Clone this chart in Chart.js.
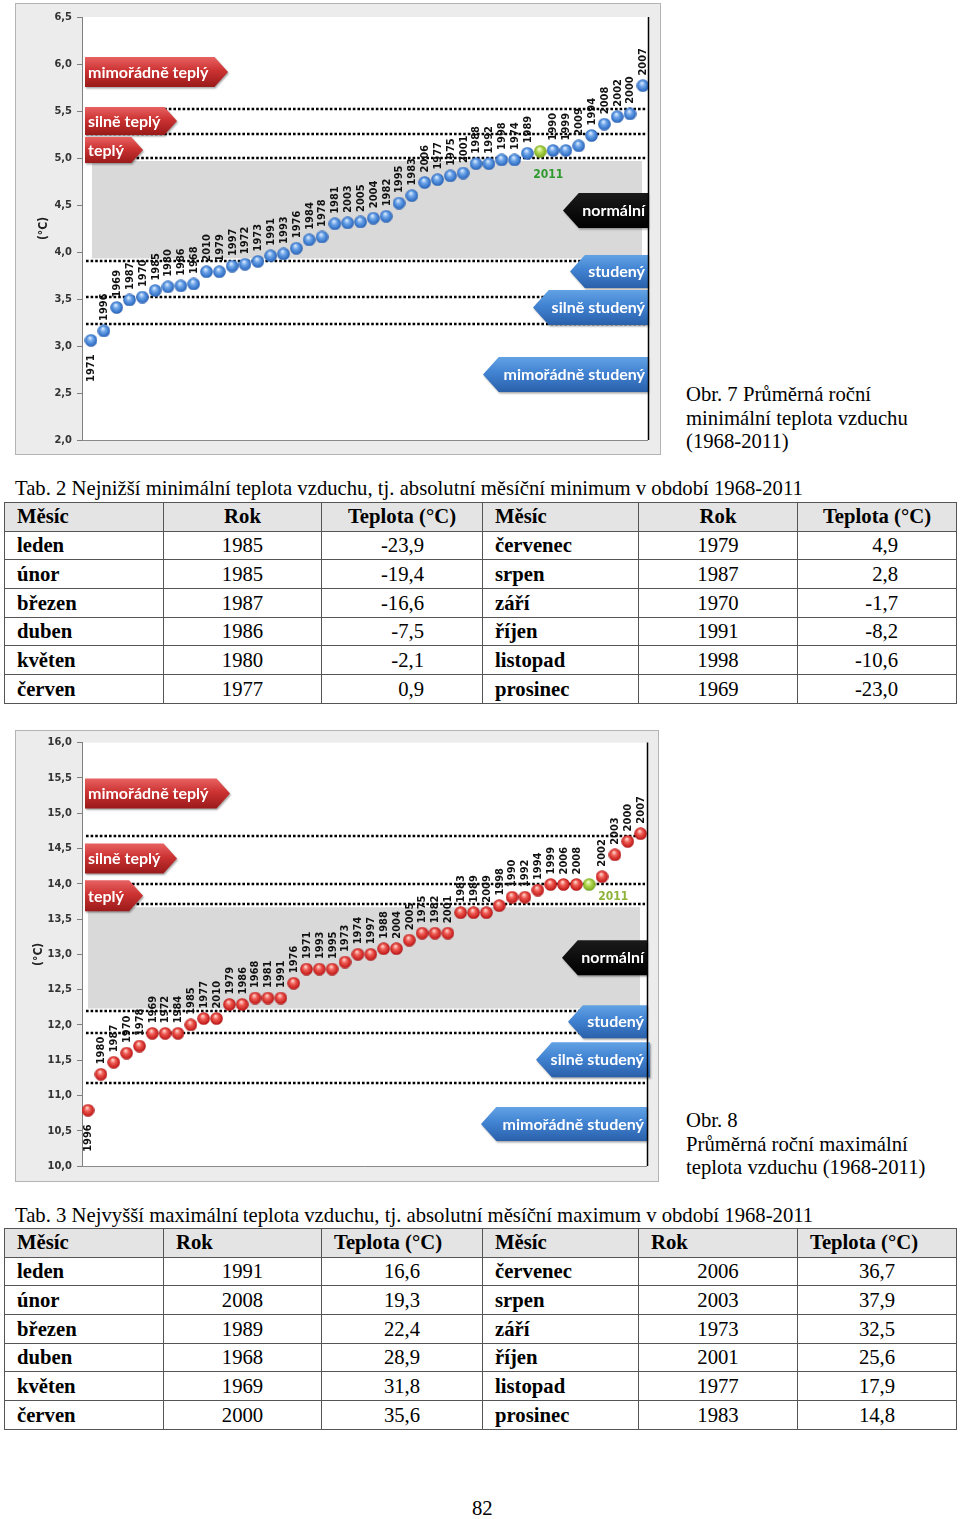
<!DOCTYPE html>
<html><head><meta charset="utf-8">
<script src="https://cdn.jsdelivr.net/npm/chart.js@4/dist/chart.umd.min.js"></script>
<style>
html,body{margin:0;padding:0;}
body{width:960px;height:1519px;position:relative;background:#fff;overflow:hidden;font-family:"Liberation Serif","Times New Roman",serif;color:#000;}
.box{position:absolute;background:#ececec;outline:1px solid #b4b4b4;}
.box canvas{position:absolute;left:0;top:0;}
.cap{position:absolute;font-size:20.7px;line-height:23.5px;white-space:nowrap;}
table{position:absolute;left:4px;width:952px;border-collapse:collapse;table-layout:fixed;font-size:20.7px;}
td,th{border:1.5px solid #555;padding:0 12px;line-height:1;white-space:nowrap;overflow:hidden;}
th{background:#e4e4e4;font-weight:bold;}
td.m{font-weight:bold;text-align:left;}
</style></head>
<body>
<div class="box" id="box1" style="left:16px;top:4px;width:644px;height:450px;"><canvas id="c1" width="644" height="450"></canvas></div>
<div class="cap" style="left:686px;top:383px;">Obr. 7 Průměrná roční<br>minimální teplota vzduchu<br>(1968-2011)</div>
<div class="cap" style="left:15px;top:477px;">Tab. 2 Nejnižší minimální teplota vzduchu, tj. absolutní měsíční minimum v období 1968-2011</div>
<table id="t1" style="top:502px;"></table>
<div class="box" id="box2" style="left:16px;top:731px;width:642px;height:450px;"><canvas id="c2" width="642" height="450"></canvas></div>
<div class="cap" style="left:686px;top:1109px;">Obr. 8<br>Průměrná roční maximální<br>teplota vzduchu (1968-2011)</div>
<div class="cap" style="left:15px;top:1204px;">Tab. 3 Nejvyšší maximální teplota vzduchu, tj. absolutní měsíční maximum v období 1968-2011</div>
<table id="t2" style="top:1228px;"></table>
<div class="cap" style="left:472px;top:1497px;">82</div>
<script>
// ---- Chart data (Obr. 7: average annual minimum temperature, sorted) ----
const years1 = [1971,1996,1969,1987,1970,1985,1980,1986,1968,2010,1979,1997,1972,1973,1991,1993,1976,1984,1978,1981,2003,2005,2004,1982,1995,1983,2006,1977,1975,2001,1988,1992,1998,1974,1989,2011,1990,1999,2009,1994,2008,2002,2000,2007];
const tmin1 = [3.06,3.16,3.41,3.49,3.52,3.59,3.63,3.64,3.66,3.79,3.79,3.85,3.87,3.90,3.96,3.98,4.04,4.13,4.16,4.30,4.31,4.32,4.36,4.38,4.52,4.60,4.74,4.77,4.81,4.84,4.94,4.94,4.98,4.98,5.05,5.07,5.08,5.08,5.13,5.24,5.36,5.44,5.47,5.77];
const limits1 = [5.52,5.26,5.00,3.90,3.52,3.23];
// ---- Chart data (Obr. 8: average annual maximum temperature, sorted) ----
const years2 = [1996,1980,1987,1970,1978,1969,1972,1984,1985,1977,2010,1979,1986,1968,1981,1991,1976,1971,1993,1995,1973,1974,1997,1988,2004,2005,1975,1982,2001,1983,1989,2009,1998,1990,1992,1994,1999,2006,2008,2011,2002,2003,2000,2007];
const tmax2 = [10.79,11.30,11.47,11.60,11.70,11.88,11.88,11.88,12.00,12.09,12.09,12.29,12.29,12.38,12.38,12.38,12.59,12.79,12.79,12.79,12.89,13.00,13.00,13.08,13.08,13.20,13.30,13.30,13.30,13.59,13.59,13.59,13.69,13.81,13.81,13.91,13.99,13.99,13.99,13.99,14.10,14.41,14.60,14.71];
const limits2 = [14.67,14.00,13.71,12.19,11.88,11.17];
const classNames = ['mimořádně teplý','silně teplý','teplý','normální','studený','silně studený','mimořádně studený'];

// ---- Table data ----
const months = ['leden','únor','březen','duben','květen','červen','červenec','srpen','září','říjen','listopad','prosinec'];
const minYears = [1985,1985,1987,1986,1980,1977,1979,1987,1970,1991,1998,1969];
const minTemps = ['-23,9','-19,4','-16,6','-7,5','-2,1','0,9','4,9','2,8','-1,7','-8,2','-10,6','-23,0'];
const maxYears = [1991,2008,1989,1968,1969,2000,2006,2003,1973,2001,1977,1983];
const maxTemps = ['16,6','19,3','22,4','28,9','31,8','35,6','36,7','37,9','32,5','25,6','17,9','14,8'];

function buildTable(id, yrs, tmps, headAlign, tempStyle){
  const t = document.getElementById(id);
  let h = '<colgroup><col style="width:159px"><col style="width:158px"><col style="width:161px"><col style="width:156px"><col style="width:159px"><col style="width:159px"></colgroup>';
  h += '<tr style="height:28.7px">';
  for (let k=0;k<2;k++){
    h += '<th style="text-align:left">Měsíc</th><th style="text-align:'+headAlign+'">Rok</th><th style="text-align:'+headAlign+'">Teplota (°C)</th>';
  }
  h += '</tr>';
  for (let r=0;r<6;r++){
    h += '<tr style="height:28.7px">';
    [r, r+6].forEach(i=>{
      h += '<td class="m">'+months[i]+'</td><td style="text-align:center">'+yrs[i]+'</td><td style="'+tempStyle+'">'+tmps[i]+'</td>';
    });
    h += '</tr>';
  }
  t.innerHTML = h;
}
buildTable('t1', minYears, minTemps, 'center', 'text-align:right;padding-right:58px');
buildTable('t2', maxYears, maxTemps, 'left', 'text-align:center');

const LBL_FONT = '"DejaVu Sans Condensed", "DejaVu Sans", sans-serif';

function sphere(c0,c1,c2,c3){
  const s=13, cv=document.createElement('canvas'); cv.width=s; cv.height=s;
  const g=cv.getContext('2d');
  const gr=g.createRadialGradient(s*0.42,s*0.3,0.4,s*0.5,s*0.52,s*0.55);
  gr.addColorStop(0,c0); gr.addColorStop(0.35,c1); gr.addColorStop(0.8,c2); gr.addColorStop(1,c3);
  g.fillStyle=gr; g.beginPath(); g.arc(s/2,s/2,s/2-0.2,0,Math.PI*2); g.fill();
  return cv;
}

function arrowPath(ctx,x0,x1,yc,h,dir){
  const t=h*0.45;
  ctx.beginPath();
  if(dir==='R'){
    ctx.moveTo(x0,yc-h/2); ctx.lineTo(x1-t,yc-h/2); ctx.lineTo(x1,yc); ctx.lineTo(x1-t,yc+h/2); ctx.lineTo(x0,yc+h/2);
  } else {
    ctx.moveTo(x1,yc-h/2); ctx.lineTo(x0+t,yc-h/2); ctx.lineTo(x0,yc); ctx.lineTo(x0+t,yc+h/2); ctx.lineTo(x1,yc+h/2);
  }
  ctx.closePath();
}

function makeDecor(cfg){
  return {
    id:'decor',
    beforeDraw(chart){
      const {ctx, chartArea:a} = chart;
      ctx.save(); ctx.fillStyle='#fff'; ctx.fillRect(a.left,a.top,a.right-a.left,a.bottom-a.top); ctx.restore();
    },
    beforeDatasetsDraw(chart){
      const {ctx, chartArea:a, scales:{y}} = chart;
      ctx.save();
      const yt=y.getPixelForValue(cfg.band[0]), yb=y.getPixelForValue(cfg.band[1]);
      ctx.fillStyle='#d9d9d9';
      ctx.fillRect(a.left+cfg.bandL, yt+3, (a.right-cfg.bandR)-(a.left+cfg.bandL), yb-yt-6);
      ctx.strokeStyle='#000'; ctx.lineWidth=2.6; ctx.setLineDash([2.6,2]);
      cfg.limits.forEach(v=>{
        const py=Math.round(y.getPixelForValue(v));
        ctx.beginPath(); ctx.moveTo(a.left+4,py); ctx.lineTo(a.right-2,py); ctx.stroke();
      });
      ctx.setLineDash([]);
      cfg.arrows.forEach(ar=>{
        const yc=y.getPixelForValue(ar.v);
        let x0,x1;
        if(ar.side==='R'){ x0=a.left+3; x1=x0+ar.w; } else { x1=a.right+(ar.dx||0); x0=x1-ar.w; }
        const g=ctx.createLinearGradient(0,yc-ar.h/2,0,yc+ar.h/2);
        if(ar.c==='red'){ g.addColorStop(0,'#e86262'); g.addColorStop(0.45,'#cc3232'); g.addColorStop(1,'#9a1a1a'); }
        else if(ar.c==='blue'){ g.addColorStop(0,'#62a2e4'); g.addColorStop(0.45,'#4183d2'); g.addColorStop(1,'#2a60aa'); }
        else { g.addColorStop(0,'#1a1a1a'); g.addColorStop(1,'#000'); }
        ctx.save();
        ctx.shadowColor='rgba(0,0,0,0.35)'; ctx.shadowOffsetX=1; ctx.shadowOffsetY=1.5; ctx.shadowBlur=2;
        arrowPath(ctx,x0,x1,yc,ar.h,ar.side);
        ctx.fillStyle=g; ctx.fill();
        ctx.restore();
        ctx.fillStyle='#fff'; ctx.font='bold 16px Lato'; ctx.textBaseline='middle';
        if(ar.side==='R'){ ctx.textAlign='left'; ctx.fillText(ar.t,x0+3,yc+0.5); }
        else { ctx.textAlign='right'; ctx.fillText(ar.t,x1-3-(ar.dx||0),yc+0.5); }
      });
      ctx.restore();
    },
    afterDatasetsDraw(chart){
      const {ctx, chartArea:a} = chart;
      const meta=chart.getDatasetMeta(0);
      ctx.save();
      meta.data.forEach((pt,i)=>{
        const yr=cfg.years[i];
        if(yr===cfg.hl.year){
          ctx.font='bold 12px '+LBL_FONT; ctx.fillStyle=cfg.hl.color; ctx.textAlign='center'; ctx.textBaseline='middle';
          ctx.fillText(String(yr), pt.x+cfg.hl.dx, pt.y+cfg.hl.dy);
          return;
        }
        ctx.save();
        ctx.translate(pt.x, yr===cfg.below ? pt.y+14 : pt.y-10);
        ctx.rotate(-Math.PI/2);
        ctx.font='bold 11px '+LBL_FONT; ctx.fillStyle='#111'; ctx.textBaseline='middle';
        ctx.textAlign = yr===cfg.below ? 'right' : 'left';
        ctx.fillText(String(yr),0,0.5);
        ctx.restore();
      });
      ctx.strokeStyle='#000'; ctx.lineWidth=1.5;
      ctx.beginPath(); ctx.moveTo(a.right+0.5,a.top); ctx.lineTo(a.right+0.5,a.bottom); ctx.stroke();
      ctx.strokeStyle='#8a8a8a'; ctx.lineWidth=1;
      ctx.beginPath(); ctx.moveTo(a.left,a.bottom+0.5); ctx.lineTo(a.right,a.bottom+0.5); ctx.stroke();
      ctx.restore();
    }
  };
}

function makeChart(id, years, vals, cfg){
  const imgN = cfg.sphere;
  const imgG = sphere('#f4ffd8','#b6dc58','#7fae22','#507414');
  return new Chart(document.getElementById(id), {
    type:'scatter',
    data:{datasets:[{
      data: vals.map((v,i)=>({x:i+1,y:v})),
      pointStyle: c => years[c.dataIndex]===2011 ? imgG : imgN,
      pointRadius:6, pointHoverRadius:6, showLine:false
    }]},
    options:{
      responsive:false, animation:false, events:[],
      layout:{padding:cfg.pad},
      scales:{
        x:{type:'linear',display:false,min:cfg.xmin,max:cfg.xmax},
        y:{min:cfg.ymin,max:cfg.ymax,
          ticks:{stepSize:0.5,callback:v=>v.toFixed(1).replace('.',','),font:{family:LBL_FONT,weight:'bold',size:11},color:'#333',padding:5},
          grid:{drawOnChartArea:false,drawTicks:true,tickLength:5,color:'#7f7f7f'},
          border:{display:true,color:'#7f7f7f'},
          title:{display:true,text:'(°C)',font:{family:LBL_FONT,weight:'bold',size:12},color:'#222',padding:{top:cfg.titlePad,bottom:0}},
          afterFit(s){ s.width=56; }
        }
      },
      plugins:{legend:{display:false},tooltip:{enabled:false}}
    },
    plugins:[makeDecor(Object.assign({years},cfg))]
  });
}

function draw(){
  makeChart('c1', years1, tmin1, {
    pad:{left:10,top:13,right:12,bottom:14}, xmin:0.3, xmax:44.4, ymin:2, ymax:6.5, titlePad:11,
    sphere: sphere('#dcebfd','#6aa3e8','#2f6cc2','#1b407e'),
    limits: limits1, band:[limits1[2],limits1[3]], bandL:10, bandR:6,
    below:1971, hl:{year:2011,dx:8,dy:23,color:'#2e9a2e'},
    arrows:[
      {t:classNames[0],v:5.915,h:30,w:143,side:'R',c:'red'},
      {t:classNames[1],v:5.394,h:28,w:92,side:'R',c:'red'},
      {t:classNames[2],v:5.085,h:26,w:58,side:'R',c:'red'},
      {t:classNames[3],v:4.441,h:35,w:85,side:'L',c:'black'},
      {t:classNames[4],v:3.793,h:33,w:78,side:'L',c:'blue'},
      {t:classNames[5],v:3.410,h:35,w:115,side:'L',c:'blue'},
      {t:classNames[6],v:2.697,h:35,w:165,side:'L',c:'blue'}
    ]
  });
  makeChart('c2', years2, tmax2, {
    pad:{left:10,top:11,right:11,bottom:15}, xmin:0.53, xmax:44.5, ymin:10, ymax:16, titlePad:6,
    sphere: sphere('#ffd6cf','#ee5a52','#c41c1c','#6e0a0a'),
    limits: limits2, band:[limits2[2],limits2[3]], bandL:6, bandR:7,
    below:1996, hl:{year:2011,dx:24,dy:12,color:'#8db33a'},
    arrows:[
      {t:classNames[0],v:15.278,h:30,w:145,side:'R',c:'red'},
      {t:classNames[1],v:14.358,h:30,w:92,side:'R',c:'red'},
      {t:classNames[2],v:13.828,h:31,w:58,side:'R',c:'red'},
      {t:classNames[3],v:12.950,h:35,w:85,side:'L',c:'black'},
      {t:classNames[4],v:12.045,h:33,w:79,side:'L',c:'blue'},
      {t:classNames[5],v:11.507,h:35,w:114,side:'L',c:'blue',dx:3},
      {t:classNames[6],v:10.594,h:34,w:166,side:'L',c:'blue'}
    ]
  });
}
if (document.fonts && document.fonts.load) {
  Promise.all([document.fonts.load('bold 12px Lato'),document.fonts.load('bold 16px Lato'),document.fonts.load('bold 11px "DejaVu Sans Condensed"')]).then(draw, draw);
} else draw();
</script>
</body></html>
